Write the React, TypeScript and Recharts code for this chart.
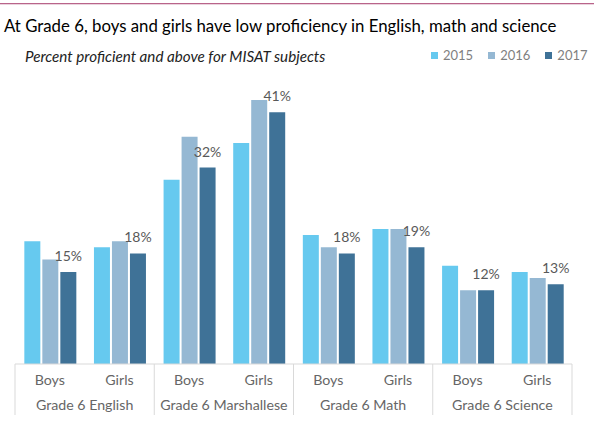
import React from "react";
import { Bar, BarChart, LabelList, XAxis, YAxis } from "recharts";

// MISAT Grade 6 results, percent proficient and above
const genders = ["Boys", "Girls", "Boys", "Girls", "Boys", "Girls", "Boys", "Girls"];
const subjects = [
  "Grade 6 English",
  "Grade 6 English",
  "Grade 6 Marshallese",
  "Grade 6 Marshallese",
  "Grade 6 Math",
  "Grade 6 Math",
  "Grade 6 Science",
  "Grade 6 Science",
];
const y2015 = [20, 19, 30, 36, 21, 22, 16, 15];
const y2016 = [17, 20, 37, 43, 19, 22, 12, 14];
const y2017 = [15, 18, 32, 41, 18, 19, 12, 13];
const years = ["2015", "2016", "2017"];

const colors = ["#66c9ef", "#95b8d3", "#3f7297"];
const FONT = "Lato, 'Open Sans', sans-serif";

const data = genders.map((g, i) => ({
  gender: g,
  subject: subjects[i],
  y2015: y2015[i],
  y2016: y2016[i],
  y2017: y2017[i],
}));

const GroupTick = (props: any) => {
  const { x, y, payload, index, visibleTicksCount } = props;
  const half = payload?.offset ?? 0;
  return (
    <g>
      <line x1={x - half} x2={x - half} y1={y - 36} y2={y + 15} stroke="#d9d9d9" />
      {index === visibleTicksCount - 1 && (
        <line x1={x + half} x2={x + half} y1={y - 36} y2={y + 15} stroke="#d9d9d9" />
      )}
      <text
        x={x}
        y={y}
        dy="0.71em"
        textAnchor="middle"
        fill="#666"
        fontSize={14.2}
        fontFamily={FONT}
      >
        {payload.value}
      </text>
    </g>
  );
};

const LegendBox = () => (
  <div style={{ display: "flex", gap: 15, fontFamily: FONT, fontSize: 13, color: "#7f7f7f" }}>
    {years.map((yr, i) => (
      <span key={yr} style={{ display: "flex", alignItems: "center" }}>
        <span
          style={{ width: 7, height: 7, background: colors[i], marginRight: 5, display: "inline-block" }}
        />
        {yr}
      </span>
    ))}
  </div>
);

export default function App() {
  return (
    <div
      style={{
        position: "absolute",
        left: 0,
        top: 0,
        width: 594,
        height: 428,
        background: "#fff",
        fontFamily: FONT,
      }}
    >
      <div style={{ position: "absolute", left: 0, top: 3, width: 594, height: 1, background: "#b9648a" }} />
      <div style={{ position: "absolute", left: 0, top: 4, width: 594, height: 1, background: "#ead3dd" }} />
      <div
        style={{
          position: "absolute",
          left: 4,
          top: 15,
          fontSize: 16.8,
          color: "#000",
          whiteSpace: "nowrap",
        }}
      >
        At Grade 6, boys and girls have low proficiency in English, math and science
      </div>
      <div
        style={{
          position: "absolute",
          left: 25,
          top: 47,
          fontSize: 15.2,
          fontStyle: "italic",
          color: "#222",
          whiteSpace: "nowrap",
        }}
      >
        Percent proficient and above for MISAT subjects
      </div>
      <div style={{ position: "absolute", left: 431, top: 47 }}>
        <LegendBox />
      </div>
      <BarChart
        width={594}
        height={428}
        data={data}
        margin={{ top: 57, right: 22, left: 15, bottom: 9 }}
        barCategoryGap="13.4%"
        barGap={2}
      >
        <YAxis hide domain={[0, 50]} />
        <XAxis
          dataKey="gender"
          interval={0}
          height={25}
          tickLine={false}
          tickMargin={5}
          axisLine={{ stroke: "#d9d9d9" }}
          tick={{ fill: "#666", fontSize: 14.2, fontFamily: FONT }}
        />
        <XAxis
          xAxisId="group"
          dataKey="subject"
          allowDuplicatedCategory={false}
          interval={0}
          height={30}
          tickLine={false}
          tickMargin={5}
          axisLine={false}
          tick={<GroupTick />}
        />
        <Bar dataKey="y2015" name="2015" fill={colors[0]} isAnimationActive={false} />
        <Bar dataKey="y2016" name="2016" fill={colors[1]} isAnimationActive={false} />
        <Bar dataKey="y2017" name="2017" fill={colors[2]} isAnimationActive={false}>
          <LabelList
            dataKey="y2017"
            position="top"
            offset={11}
            formatter={(v: any) => `${v}%`}
            fill="#595959"
            fontSize={14}
            fontFamily={FONT}
          />
        </Bar>
      </BarChart>
    </div>
  );
}
